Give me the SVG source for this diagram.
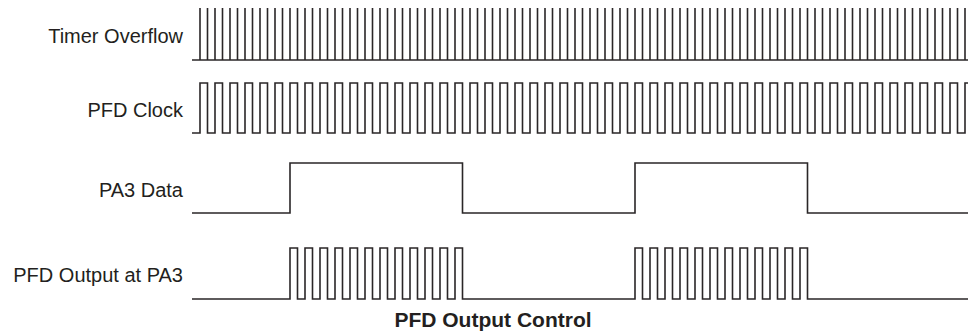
<svg xmlns="http://www.w3.org/2000/svg" width="968" height="332" viewBox="0 0 968 332">
<style>
.lbl{font-family:"Liberation Sans",Arial,Helvetica,sans-serif;font-size:20px;fill:#231f20;text-anchor:end}
.ttl{font-family:"Liberation Sans",Arial,Helvetica,sans-serif;font-size:21px;font-weight:bold;fill:#231f20;text-anchor:middle}
.wave{fill:none;stroke:#2a2627;stroke-width:1.6;stroke-linejoin:miter}
</style>
<rect width="968" height="332" fill="#ffffff"/>
<g id="labels">
<text class="lbl" x="183" y="42.5">Timer Overflow</text>
<text class="lbl" x="183" y="116.5">PFD Clock</text>
<text class="lbl" x="183" y="196.5">PA3 Data</text>
<text class="lbl" x="183" y="282">PFD Output at PA3</text>
</g>
<g id="signals">
<g id="timer-overflow">
<path class="wave" d="M192 60H968"/>
<path class="wave" d="M200 8V60M207.5 8V60M215 8V60M222.5 8V60M230 8V60M237.5 8V60M245 8V60M252.5 8V60M260 8V60M267.5 8V60M275 8V60M282.5 8V60M290 8V60M297.5 8V60M305 8V60M312.5 8V60M320 8V60M327.5 8V60M335 8V60M342.5 8V60M350 8V60M357.5 8V60M365 8V60M372.5 8V60M380 8V60M387.5 8V60M395 8V60M402.5 8V60M410 8V60M417.5 8V60M425 8V60M432.5 8V60M440 8V60M447.5 8V60M455 8V60M462.5 8V60M470 8V60M477.5 8V60M485 8V60M492.5 8V60M500 8V60M507.5 8V60M515 8V60M522.5 8V60M530 8V60M537.5 8V60M545 8V60M552.5 8V60M560 8V60M567.5 8V60M575 8V60M582.5 8V60M590 8V60M597.5 8V60M605 8V60M612.5 8V60M620 8V60M627.5 8V60M635 8V60M642.5 8V60M650 8V60M657.5 8V60M665 8V60M672.5 8V60M680 8V60M687.5 8V60M695 8V60M702.5 8V60M710 8V60M717.5 8V60M725 8V60M732.5 8V60M740 8V60M747.5 8V60M755 8V60M762.5 8V60M770 8V60M777.5 8V60M785 8V60M792.5 8V60M800 8V60M807.5 8V60M815 8V60M822.5 8V60M830 8V60M837.5 8V60M845 8V60M852.5 8V60M860 8V60M867.5 8V60M875 8V60M882.5 8V60M890 8V60M897.5 8V60M905 8V60M912.5 8V60M920 8V60M927.5 8V60M935 8V60M942.5 8V60M950 8V60M957.5 8V60M965 8V60"/>
</g>
<g id="pfd-clock">
<path class="wave" d="M192 133H200
V83H207.5V133H215V83H222.5V133H230V83H237.5V133H245V83H252.5V133H260V83H267.5V133H275V83H282.5V133H290V83H297.5V133H305V83H312.5V133H320V83H327.5V133H335V83H342.5V133H350
V83H357.5V133H365V83H372.5V133H380V83H387.5V133H395V83H402.5V133H410V83H417.5V133H425V83H432.5V133H440V83H447.5V133H455V83H462.5V133H470V83H477.5V133H485V83H492.5V133H500
V83H507.5V133H515V83H522.5V133H530V83H537.5V133H545V83H552.5V133H560V83H567.5V133H575V83H582.5V133H590V83H597.5V133H605V83H612.5V133H620V83H627.5V133H635V83H642.5V133H650
V83H657.5V133H665V83H672.5V133H680V83H687.5V133H695V83H702.5V133H710V83H717.5V133H725V83H732.5V133H740V83H747.5V133H755V83H762.5V133H770V83H777.5V133H785V83H792.5V133H800
V83H807.5V133H815V83H822.5V133H830V83H837.5V133H845V83H852.5V133H860V83H867.5V133H875V83H882.5V133H890V83H897.5V133H905V83H912.5V133H920V83H927.5V133H935V83H942.5V133H950
V83H957.5V133H965V83H968"/>
</g>
<g id="pa3-data">
<path class="wave" d="M192 213H290V163H462.5V213H635V163H807.5V213H968"/>
</g>
<g id="pfd-output">
<path class="wave" d="M192 299H290
V248H297.5V299H305V248H312.5V299H320V248H327.5V299H335V248H342.5V299H350V248H357.5V299H365V248H372.5V299H380V248H387.5V299H395V248H402.5V299H410V248H417.5V299H425V248H432.5V299H440V248H447.5V299H455V248H462.5V299
H635
V248H642.5V299H650V248H657.5V299H665V248H672.5V299H680V248H687.5V299H695V248H702.5V299H710V248H717.5V299H725V248H732.5V299H740V248H747.5V299H755V248H762.5V299H770V248H777.5V299H785V248H792.5V299H800V248H807.5V299
H968"/>
</g>
</g>
<text class="ttl" x="493" y="326.5">PFD Output Control</text>
</svg>
